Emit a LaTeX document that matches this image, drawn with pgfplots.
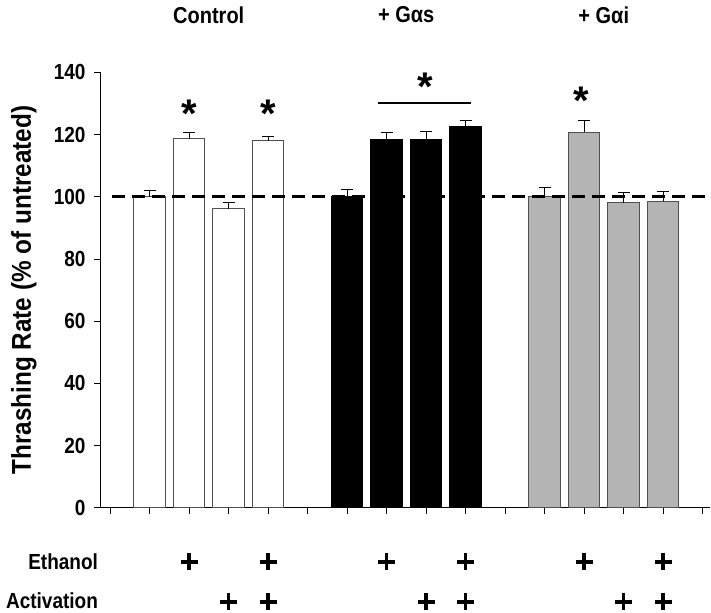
\documentclass[border=0pt]{standalone}
\usepackage{fontspec}
\setmainfont{Liberation Sans}
\usepackage{pgfplots}
\usepackage{pgfplotstable}
\pgfplotsset{compat=1.18}
\definecolor{bargray}{RGB}{180,180,180}
\definecolor{edgegray}{RGB}{80,80,80}
\newcommand{\tall}[1]{\scalebox{1}[1.15]{#1}}
\pgfplotstableread{
x y e
1 100.0 2.2
2 118.7 2.0
3 96.1 2.1
4 118.0 1.5
}\ctrl
\pgfplotstableread{
x y e
6 100.0 2.4
7 118.4 2.3
8 118.6 2.3
9 122.7 2.0
}\gas
\pgfplotstableread{
x y e
11 100.0 3.0
12 120.8 3.7
13 98.1 3.2
14 98.6 3.2
}\gai
\begin{document}
\begin{tikzpicture}
\begin{axis}[
  scale only axis, width=610pt, height=435.4pt,
  xmin=-0.2532, xmax=15.19, ymin=0, ymax=140,
  axis x line=bottom, axis y line=left,
  axis line style={-, line width=1pt, black},
  xtick={0,...,15}, xticklabels={},
  ytick={0,20,...,140},
  tick align=outside, major tick length=6pt,
  tick style={black, line width=1pt},
  /pgf/number format/assume math mode=true,
  yticklabel style={font=\fontsize{19}{19}\selectfont\bfseries, xshift=-5pt},
  yticklabel={\tall{\pgfmathprintnumber{\tick}}},
  ylabel={\scalebox{1}[1.12]{Thrashing Rate (\% of untreated)}},
  ylabel style={font=\fontsize{24.3}{24.3}\selectfont\bfseries, at={(axis description cs:-0.1246,0.5)}, anchor=center},
  clip=false,
  error bars/y dir=plus, error bars/y explicit,
  error bars/error bar style={black, line width=1pt},
  error bars/error mark options={rotate=90, mark size=6pt, line width=1pt, black},
]
\addplot[ybar, bar shift=0pt, bar width=0.8, fill=white, draw=edgegray, line width=1pt]
  table[x=x, y=y, y error=e] {\ctrl};
\addplot[ybar, bar shift=0pt, bar width=0.8, fill=black, draw=black, line width=1pt]
  table[x=x, y=y, y error=e] {\gas};
\addplot[ybar, bar shift=0pt, bar width=0.8, fill=bargray, draw=edgegray, line width=1pt]
  table[x=x, y=y, y error=e] {\gai};
\addplot[black, line width=3pt, dash pattern=on 13pt off 7pt] coordinates {(0.05,100) (15.06,100)};
\addplot[black, line width=1.8pt] coordinates {(6.78,130.1) (9.14,130.1)};
\addplot[only marks, mark=+, mark size=8.5pt, line width=3.5pt, black]
  coordinates {(2,-17.4) (4,-17.4) (7,-17.4) (9,-17.4) (12,-17.4) (14,-17.4)};
\addplot[only marks, mark=+, mark size=8.5pt, line width=3.5pt, black]
  coordinates {(3,-30.2) (4,-30.2) (8,-30.2) (9,-30.2) (13,-30.2) (14,-30.2)};
\node[anchor=base, font=\fontsize{40}{40}\selectfont\bfseries] at (axis cs:2,122.2) {*};
\node[anchor=base, font=\fontsize{40}{40}\selectfont\bfseries] at (axis cs:4,122.2) {*};
\node[anchor=base, font=\fontsize{40}{40}\selectfont\bfseries] at (axis cs:7.97,130.9) {*};
\node[anchor=base, font=\fontsize{40}{40}\selectfont\bfseries] at (axis cs:11.94,126.6) {*};
\node[font=\fontsize{20}{20}\selectfont\bfseries] at (axis cs:2.5,158.5) {\tall{Control}};
\node[font=\fontsize{20}{20}\selectfont\bfseries] at (axis cs:7.5,158.5) {\tall{+ Gαs}};
\node[font=\fontsize{20}{20}\selectfont\bfseries] at (axis cs:12.5,158.5) {\tall{+ Gαi}};
\node[anchor=east, inner sep=0pt, font=\fontsize{19}{19}\selectfont\bfseries] at (axis cs:-0.30,-17.4) {\tall{Ethanol}};
\node[anchor=east, inner sep=0pt, font=\fontsize{19}{19}\selectfont\bfseries] at (axis cs:-0.30,-29.8) {\tall{Activation}};
\coordinate (bbsw) at (axis cs:-2.785,-33.76);
\coordinate (bbne) at (axis cs:15.215,163.3);
\end{axis}
\pgfresetboundingbox
\path[use as bounding box] (bbsw) rectangle (bbne);
\end{tikzpicture}
\end{document}
